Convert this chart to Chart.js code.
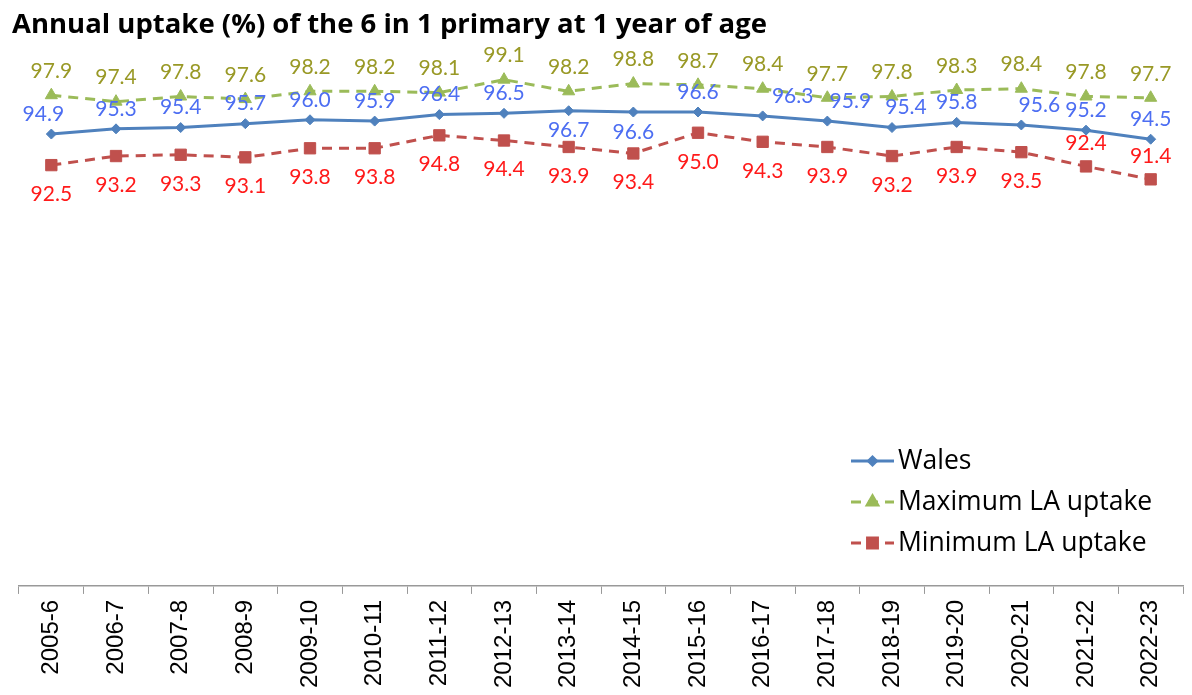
<!DOCTYPE html>
<html>
<head>
<meta charset="utf-8">
<script src="https://cdn.jsdelivr.net/npm/chart.js@4.4.1/dist/chart.umd.min.js"></script>
<style>
    html, body { margin: 0; padding: 0; background: #fff; overflow: hidden; }
    #title {
        position: absolute; left: 12px; top: 4px;
        font: bold 27.5px "Open Sans", sans-serif; color: #000;
    }
    #wrap { position: absolute; left: 0; top: 0; width: 1192px; height: 694px; }
</style>
</head>
<body>
<div id="wrap"><canvas id="lineChart"></canvas></div>
<div id="title">Annual uptake (%) of the 6 in 1 primary at 1 year of age</div>
<script>
const years = ['2005-6', '2006-7', '2007-8', '2008-9', '2009-10', '2010-11', '2011-12', '2012-13', '2013-14',
    '2014-15', '2015-16', '2016-17', '2017-18', '2018-19', '2019-20', '2020-21', '2021-22', '2022-23'];
const wales = [94.9, 95.3, 95.4, 95.7, 96.0, 95.9, 96.4, 96.5, 96.7, 96.6, 96.6, 96.3, 95.9, 95.4, 95.8, 95.6, 95.2, 94.5];
const maxLA = [97.9, 97.4, 97.8, 97.6, 98.2, 98.2, 98.1, 99.1, 98.2, 98.8, 98.7, 98.4, 97.7, 97.8, 98.3, 98.4, 97.8, 97.7];
const minLA = [92.5, 93.2, 93.3, 93.1, 93.8, 93.8, 94.8, 94.4, 93.9, 93.4, 95.0, 94.3, 93.9, 93.2, 93.9, 93.5, 92.4, 91.4];

// where each value label sits relative to its point (up = above, down = below)
const walesSide = ['up', 'up', 'up', 'up', 'up', 'up', 'up', 'up', 'down', 'down', 'up', 'up', 'up', 'up', 'up', 'up', 'up', 'up'];
const walesNudge = [-8, 0, 0, 0, 0, 0, 0, 0, 0, 0, 0, 30, 23, 14, 0, 18, 0, 0];
const minSide = ['down', 'down', 'down', 'down', 'down', 'down', 'down', 'down', 'down', 'down', 'down', 'down', 'down', 'down', 'down', 'down', 'up', 'up'];

const labelFont = '21px Lato, sans-serif';

// value labels next to the points
const valueLabels = {
    id: 'valueLabels',
    afterDatasetsDraw(chart) {
        const ctx = chart.ctx;
        ctx.save();
        ctx.font = labelFont;
        ctx.textAlign = 'center';
        ctx.textBaseline = 'middle';
        chart.data.datasets.forEach((ds, i) => {
            const meta = chart.getDatasetMeta(i);
            meta.data.forEach((pt, j) => {
                const side = ds.side ? ds.side[j] : 'up';
                const dy = side === 'up' ? -ds.gapUp : ds.gapDown;
                const dx = ds.nudge ? ds.nudge[j] : 0;
                ctx.fillStyle = ds.labelColor;
                ctx.fillText(ds.data[j].toFixed(1), pt.x + dx, pt.y + dy);
            });
        });
        ctx.restore();
    }
};

// legend drawn inside the plot, lower right
const boxLegend = {
    id: 'boxLegend',
    afterDraw(chart) {
        const ctx = chart.ctx;
        const x0 = 851, x1 = 894, yStart = 461, step = 41;
        ctx.save();
        chart.data.datasets.forEach((ds, i) => {
            const y = yStart + i * step;
            ctx.strokeStyle = ds.borderColor;
            ctx.lineWidth = ds.borderWidth;
            ctx.setLineDash(ds.borderDash || []);
            ctx.beginPath();
            ctx.moveTo(x0, y);
            ctx.lineTo(x1, y);
            ctx.stroke();
            ctx.setLineDash([]);
            ctx.fillStyle = ds.backgroundColor;
            ctx.strokeStyle = ds.borderColor;
            Chart.helpers.drawPoint(ctx, {
                pointStyle: ds.pointStyle,
                radius: ds.pointRadius - 1,
                rotation: 0,
                borderWidth: 1
            }, (x0 + x1) / 2, y);
            ctx.fillStyle = '#000';
            ctx.font = '26.5px "Open Sans", sans-serif';
            ctx.textAlign = 'left';
            ctx.textBaseline = 'middle';
            ctx.fillText(ds.label, x1 + 4, y);
        });
        ctx.restore();
    }
};

const ctx = document.getElementById('lineChart').getContext('2d');
new Chart(ctx, {
    type: 'line',
    data: {
        labels: years,
        datasets: [
            {
                label: 'Wales',
                data: wales,
                borderColor: '#4F81BD',
                backgroundColor: '#4F81BD',
                borderWidth: 3,
                pointStyle: 'rectRot',
                pointRadius: 5,
                pointBorderWidth: 1,
                labelColor: '#4D6EF2',
                side: walesSide,
                nudge: walesNudge,
                gapUp: 20,
                gapDown: 20
            },
            {
                label: 'Maximum LA uptake',
                data: maxLA,
                borderColor: '#9BBB59',
                backgroundColor: '#9BBB59',
                borderWidth: 3,
                borderDash: [10, 7],
                pointStyle: 'triangle',
                pointRadius: 7,
                pointBorderWidth: 1,
                labelColor: '#999926',
                gapUp: 24,
                gapDown: 24
            },
            {
                label: 'Minimum LA uptake',
                data: minLA,
                borderColor: '#C0504D',
                backgroundColor: '#C0504D',
                borderWidth: 3,
                borderDash: [10, 7],
                pointStyle: 'rect',
                pointRadius: 8,
                pointBorderWidth: 1,
                labelColor: '#FF1A1A',
                side: minSide,
                gapUp: 23,
                gapDown: 29
            }
        ]
    },
    options: {
        responsive: true,
        maintainAspectRatio: false,
        animation: false,
        layout: {
            padding: { top: 68, left: 19, right: 0, bottom: 0 }
        },
        plugins: {
            legend: { display: false },
            tooltip: { enabled: false }
        },
        scales: {
            x: {
                offset: true,
                grid: {
                    offset: true,
                    drawOnChartArea: false,
                    drawTicks: true,
                    tickLength: 8,
                    color: '#999'
                },
                border: { display: true, color: '#999', width: 1.5 },
                ticks: {
                    minRotation: 90,
                    maxRotation: 90,
                    autoSkip: false,
                    color: '#000',
                    padding: 6,
                    font: { family: 'Liberation Sans', size: 24 }
                }
            },
            y: {
                display: false,
                min: 60,
                max: 100
            }
        }
    },
    plugins: [valueLabels, boxLegend]
});
</script>
</body>
</html>
